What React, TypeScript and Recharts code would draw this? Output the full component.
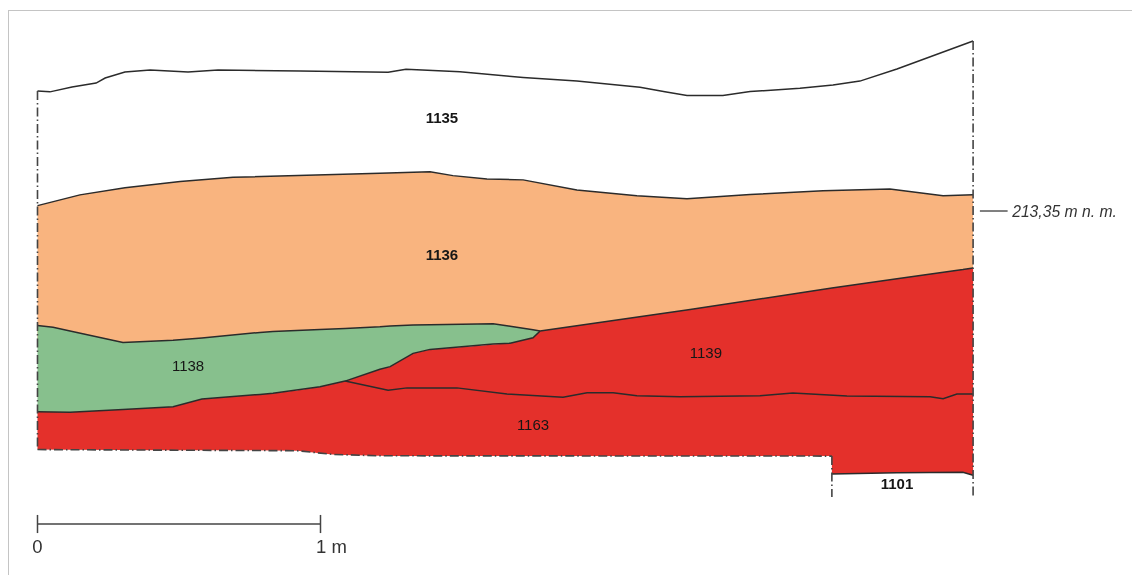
import { Area, ComposedChart, Line, ReferenceDot, XAxis, YAxis } from 'recharts';

// x = metres along the section, elevation = metres above sea level (213,35 is the datum)
const surface1135 = [
    [0, 213.774], [0.044, 213.771], [0.122, 213.788], [0.207, 213.802], [0.239, 213.820], [0.309, 213.841],
    [0.398, 213.848], [0.532, 213.841], [0.638, 213.848], [0.928, 213.845], [1.239, 213.840], [1.302, 213.851],
    [1.493, 213.842], [1.716, 213.822], [1.906, 213.809], [2.129, 213.787], [2.217, 213.771], [2.295, 213.758],
    [2.422, 213.758], [2.518, 213.772], [2.694, 213.784], [2.811, 213.795], [2.906, 213.809], [3.037, 213.852],
    [3.306, 213.951],
];

const top1136 = [
    [0, 213.369], [0.150, 213.407], [0.309, 213.432], [0.504, 213.454], [0.691, 213.469], [1.210, 213.483],
    [1.387, 213.489], [1.468, 213.475], [1.588, 213.463], [1.716, 213.460], [1.906, 213.424], [2.118, 213.404],
    [2.295, 213.393], [2.518, 213.408], [2.776, 213.422], [3.012, 213.428], [3.200, 213.404], [3.306, 213.407],
];
const base1136 = 212.877;

// x, top, bottom
const layer1138 = [
    [0, 212.945, 212.641], [0.055, 212.939, 212.640], [0.115, 212.926, 212.639], [0.302, 212.885, 212.649],
    [0.479, 212.893, 212.658], [0.581, 212.901, 212.686], [0.786, 212.921, 212.702], [0.832, 212.924, 212.706],
    [0.998, 212.931, 212.729], [1.087, 212.935, 212.749], [1.210, 212.941, 212.791], [1.246, 212.944, 212.800],
    [1.327, 212.947, 212.847], [1.387, 212.948, 212.861], [1.610, 212.952, 212.880], [1.670, 212.943, 212.883],
    [1.751, 212.930, 212.902], [1.776, 212.926, 212.926],
];

// x, top, bottom (1139 and 1163 share the same fill)
const layerRed = [
    [0, 212.641, 212.507], [0.115, 212.639, 212.506], [0.479, 212.658, 212.505], [0.581, 212.686, 212.505],
    [0.832, 212.706, 212.504], [0.918, 212.717, 212.503], [0.998, 212.729, 212.494], [1.044, 212.739, 212.490],
    [1.087, 212.749, 212.488], [1.210, 212.791, 212.485], [1.246, 212.800, 212.484], [1.327, 212.847, 212.484],
    [1.387, 212.861, 212.484], [1.670, 212.883, 212.484], [1.751, 212.902, 212.484], [1.776, 212.926, 212.484],
    [2.306, 213.002, 212.484], [2.807, 213.078, 212.484], [2.807, 213.078, 212.421], [3.037, 213.111, 212.425],
    [3.270, 213.143, 212.427], [3.306, 213.149, 212.416],
];

const top1163 = [
    [1.087, 212.749], [1.239, 212.717], [1.306, 212.725], [1.482, 212.725], [1.659, 212.703], [1.857, 212.692],
    [1.942, 212.708], [2.034, 212.708], [2.118, 212.697], [2.270, 212.694], [2.553, 212.697], [2.669, 212.707],
    [2.860, 212.696], [3.154, 212.694], [3.200, 212.687], [3.249, 212.703], [3.306, 212.703],
];

const cutEdges = [
    [[0, 213.774], [0, 212.507]],
    [[3.306, 213.951], [3.306, 212.339]],
    [[2.807, 212.484], [2.807, 212.339]],
    [[0, 212.507], [0.918, 212.503], [1.044, 212.490], [1.210, 212.485], [2.807, 212.484]],
];

const scaleBar = [
    [[0, 212.244], [1, 212.244]],
    [[0, 212.276], [0, 212.212]],
    [[1, 212.276], [1, 212.212]],
];
const datumTick = [[3.330, 213.35], [3.428, 213.35]];

const layerLabels = [
    { text: '1135', x: 1.429, y: 213.679, bold: true },
    { text: '1136', x: 1.429, y: 213.195, bold: true },
    { text: '1138', x: 0.532, y: 212.802, bold: false },
    { text: '1139', x: 2.362, y: 212.848, bold: false },
    { text: '1163', x: 1.751, y: 212.594, bold: false },
    { text: '1101', x: 3.037, y: 212.385, bold: true },
];
const scaleLabels = [
    { text: '0', x: 0, y: 212.166 },
    { text: '1 m', x: 1.039, y: 212.166 },
];

const pts = (rows: number[][]) => rows.map(([x, y]) => ({ x, y }));
const band = (rows: number[][]) => rows.map(([x, top, bottom]) => ({ x, range: [bottom, top] }));
const lineOf = (rows: number[][], idx: number) => rows.map((r) => ({ x: r[0], y: r[idx] }));

const FONT = 'Arial, "Liberation Sans", sans-serif';
const INK = '#2b2b2b';

export default function App() {
    const solid = (key: string, data: any[], width = 1.5) => (
        <Line key={key} data={data} dataKey="y" stroke={INK} strokeWidth={width} dot={false} activeDot={false} legendType="none" isAnimationActive={false} />
    );
    return (
        <div style={{ position: 'absolute', left: 0, top: 0, width: 1132, height: 575, overflow: 'hidden', background: '#fff' }}>
            <div style={{ position: 'absolute', left: 8, top: 10, width: 1124, height: 565, borderTop: '1px solid #c4c4c4', borderLeft: '1px solid #c4c4c4' }} />
            <ComposedChart width={1132} height={575} margin={{ top: 0, right: 0, bottom: 0, left: 0 }} style={{ position: 'absolute', left: 0, top: 0, filter: 'blur(0.35px)' }}>
                <XAxis type="number" dataKey="x" domain={[-0.1325, 3.8675]} hide allowDataOverflow />
                <YAxis type="number" domain={[212.0638, 214.0956]} hide allowDataOverflow />

                <Area data={pts(top1136)} dataKey="y" baseValue={base1136} fill="#F9B47F" fillOpacity={1} stroke="none" activeDot={false} isAnimationActive={false} />
                <Area data={band(layerRed)} dataKey="range" fill="#E4302B" fillOpacity={1} stroke="none" activeDot={false} isAnimationActive={false} />
                <Area data={band(layer1138)} dataKey="range" fill="#87C08D" fillOpacity={1} stroke="none" activeDot={false} isAnimationActive={false} />

                {solid('surface', pts(surface1135))}
                {solid('top1136', pts(top1136))}
                {solid('top1138', lineOf(layer1138, 1))}
                {solid('bottom1138', lineOf(layer1138, 2))}
                {solid('top1139', lineOf(layerRed.slice(15, 22), 1))}
                {solid('top1163', pts(top1163))}
                {solid('bottom1101', lineOf(layerRed.slice(18), 2))}
                {solid('datum', pts(datumTick), 1.2)}

                {cutEdges.map((edge, i) => (
                    <Line key={'cut' + i} data={pts(edge)} dataKey="y" stroke="#444" strokeWidth={1.6} strokeDasharray="9 3 1.5 3" dot={false} activeDot={false} isAnimationActive={false} />
                ))}
                {scaleBar.map((seg, i) => (
                    <Line key={'bar' + i} data={pts(seg)} dataKey="y" stroke="#444" strokeWidth={1.5} dot={false} activeDot={false} isAnimationActive={false} />
                ))}

                {layerLabels.map((l) => (
                    <ReferenceDot
                        key={l.text}
                        x={l.x}
                        y={l.y}
                        r={0}
                        fill="none"
                        stroke="none"
                        label={{ value: l.text, position: 'center', style: { fontFamily: FONT, fontSize: 15, fontWeight: l.bold ? 700 : 400, fill: '#161616' } }}
                    />
                ))}
                {scaleLabels.map((l) => (
                    <ReferenceDot
                        key={l.text}
                        x={l.x}
                        y={l.y}
                        r={0}
                        fill="none"
                        stroke="none"
                        label={{ value: l.text, position: 'center', style: { fontFamily: FONT, fontSize: 18.5, fill: '#333' } }}
                    />
                ))}
                <ReferenceDot
                    x={3.629}
                    y={213.35}
                    r={0}
                    fill="none"
                    stroke="none"
                    label={{ value: '213,35 m n. m.', position: 'center', style: { fontFamily: FONT, fontSize: 15.7, fontStyle: 'italic', fill: '#333' } }}
                />
            </ComposedChart>
        </div>
    );
}
